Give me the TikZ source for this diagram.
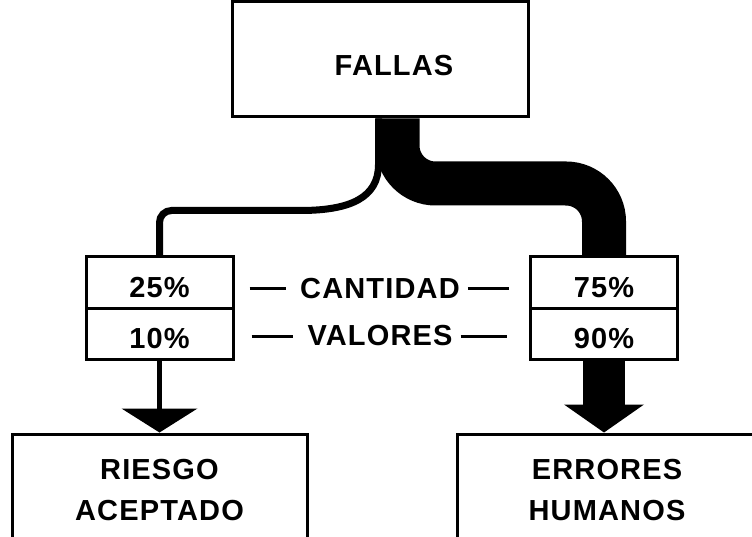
\documentclass[tikz,border=0pt]{standalone}
\usepackage{fontspec}
\setmainfont{Liberation Sans}[LetterSpace=4]
\usetikzlibrary{arrows.meta,calc}

\tikzset{
  every node/.style={font=\bfseries\fontsize{29}{41}\selectfont},
  box/.style={draw,line width=3pt,fill=white,inner sep=0pt},
  cell/.style={box,minimum width=147pt,minimum height=51pt,text height=30pt,text depth=0pt},
  thinflow/.style={line width=7pt},
  bigflow/.style={line width=44pt},
  tiret/.style={line width=3pt},
}

\begin{document}
\begin{tikzpicture}[x=1pt,y=-1pt]
\useasboundingbox (0,0) rectangle (752,537);
% boxes
\node[box,minimum width=296pt,minimum height=115pt,
  label={[shift={(14,6)}]center:FALLAS}] (fallas) at (380,59.5) {};
\node[cell] (c25) at (159.5,282.5) {25\%};
\node[cell] (v10) at (159.5,333.5) {10\%};
\node[cell] (c75) at (604,282.5) {75\%};
\node[cell] (v90) at (604,333.5) {90\%};
\node[box,minimum width=295pt,minimum height=112pt,align=center] (riesgo) at (159.5,490) {RIESGO\\ACEPTADO};
\node[box,minimum width=300pt,minimum height=112pt,align=center] (errores) at (607,490) {ERRORES\\HUMANOS};
% middle labels
\node[inner sep=0pt] (cantidad) at (380,289) {CANTIDAD};
\node[inner sep=0pt] (valores) at (380,336) {VALORES};

% split of the flow
\draw[bigflow,rounded corners=38pt] ($(fallas.south)+(17.5,0)$) |- ($(c75.north)+(0,-72)$) -- (c75.north);
\draw[thinflow] ($(fallas.south)+(-1.5,0)$) -- ++(0,46)
  .. controls +(0,33) and +(50,0) .. ++(-78,46)
  [rounded corners=12pt] -| (c25.north);

% arrows down
\draw[line width=5pt,-{Triangle[width=76pt,length=24pt,line width=0pt]}] (v10.south) -- (riesgo.north);
\draw[line width=42pt,-{Triangle[width=80pt,length=28pt,line width=0pt]}] (v90.south) -- (v90.south |- errores.north);

% dashes
\draw[tiret] ($(c25.east |- cantidad)+(15,0)$) -- ($(cantidad.west)+(-14,0)$);
\draw[tiret] ($(cantidad.east)+(8,0)$) -- ($(c75.west |- cantidad)+(-20,0)$);
\draw[tiret] ($(v10.east |- valores)+(17,0)$) -- ($(valores.west)+(-14,0)$);
\draw[tiret] ($(valores.east)+(8,0)$) -- ($(v90.west |- valores)+(-22,0)$);
\end{tikzpicture}
\end{document}
